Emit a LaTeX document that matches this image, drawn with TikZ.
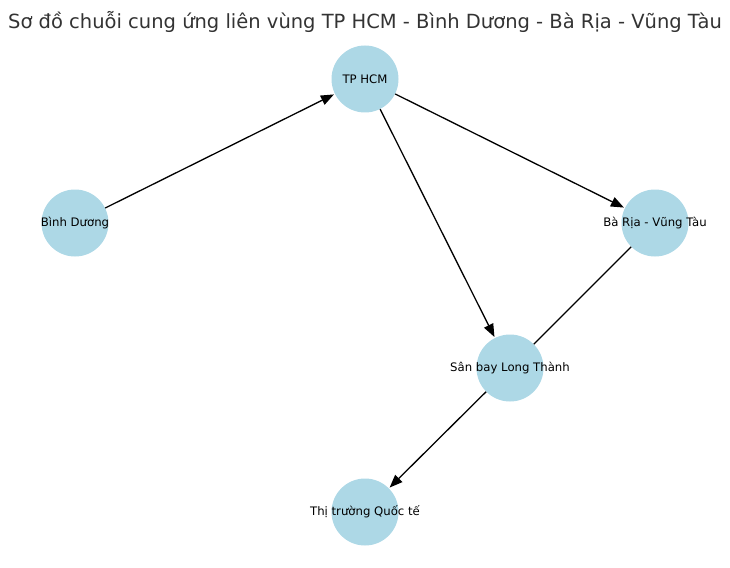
\documentclass[tikz,border=0pt]{standalone}
\usepackage{fontspec}
\setmainfont{DejaVu Sans}
\usetikzlibrary{arrows.meta}
\definecolor{nodeblue}{HTML}{ADD8E6}
\begin{document}
\begin{tikzpicture}[x=1pt, y=-1pt,
  place/.style={circle, fill=nodeblue, minimum size=67pt, inner sep=0},
  tag/.style={font=\fontsize{11.7}{14}\selectfont},
  link/.style={-{Triangle[length=13pt, width=10pt]}, line width=1.3pt, shorten >=1pt}]
\useasboundingbox (0,0) rectangle (730,567);
\node[font=\fontsize{19.5}{23}\selectfont, text=black!80] (title) at (365,22) {Sơ đồ chuỗi cung ứng liên vùng TP HCM - Bình Dương - Bà Rịa - Vũng Tàu};
\node[place] (hcm) at (365,79) {};
\node[place] (bd) at (75,223) {};
\node[place] (brvt) at (655,223) {};
\node[place] (lt) at (510,368) {};
\node[place] (qt) at (365,512) {};
% Connectors
\draw[link] (bd) -- (hcm);
\draw[link] (hcm) -- (brvt);
\draw[link] (hcm) -- (lt);
\draw[line width=1.3pt] (brvt) -- (lt);
\draw[link] (lt) -- (qt);
% Labels
\node[tag] at (hcm) {TP HCM};
\node[tag] at (bd) {Bình Dương};
\node[tag] at (brvt) {Bà Rịa - Vũng Tàu};
\node[tag] at (lt) {Sân bay Long Thành};
\node[tag] at (qt) {Thị trường Quốc tế};
\end{tikzpicture}
\end{document}
